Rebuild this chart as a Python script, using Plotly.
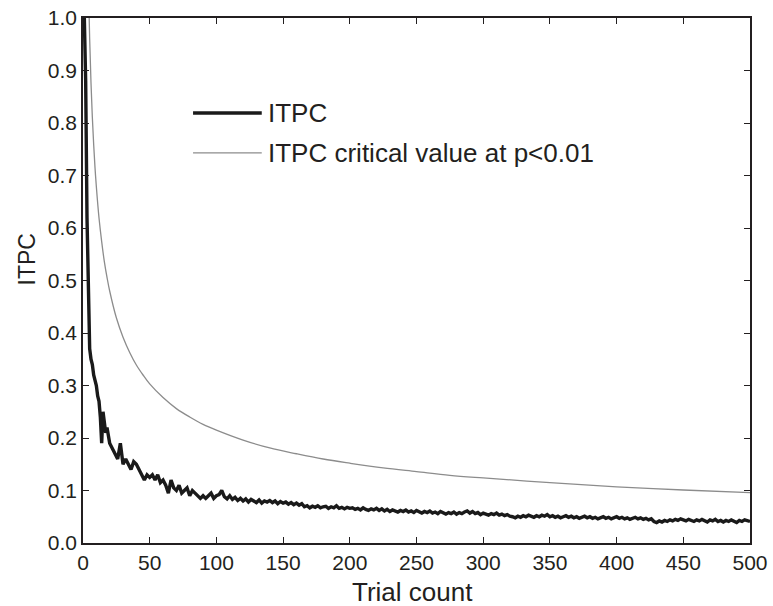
import plotly.graph_objects as go

# ---- data ----
itpc_trials = list(range(1, 21)) + list(range(22, 101, 2)) + list(range(102, 501, 2))
itpc_values = [
    1.00, 0.88, 0.62, 0.46, 0.37, 0.35, 0.34, 0.32, 0.31, 0.30,
    0.28, 0.27, 0.24, 0.19, 0.25, 0.23, 0.21, 0.22, 0.20, 0.19,
    # 22..100 step 2
    0.18, 0.17, 0.16, 0.19, 0.15, 0.16, 0.15, 0.14, 0.155, 0.15,
    0.14, 0.13, 0.12, 0.13, 0.125, 0.13, 0.12, 0.13, 0.115, 0.12,
    0.11, 0.095, 0.12, 0.105, 0.10, 0.11, 0.095, 0.10, 0.105, 0.09,
    0.10, 0.095, 0.09, 0.085, 0.09, 0.085, 0.09, 0.095, 0.085, 0.09,
    # 102..500 step 2
    0.092, 0.100, 0.088, 0.084, 0.090, 0.083, 0.087, 0.081, 0.085, 0.080,
    0.084, 0.078, 0.083, 0.079, 0.077, 0.082, 0.076, 0.080, 0.078, 0.081,
    0.077, 0.080, 0.075, 0.079, 0.076, 0.078, 0.074, 0.077, 0.073, 0.076,
    0.072, 0.075, 0.069, 0.071, 0.067, 0.070, 0.068, 0.071, 0.067, 0.069,
    0.070, 0.066, 0.069, 0.067, 0.071, 0.066, 0.068, 0.065, 0.068, 0.066,
    0.067, 0.064, 0.066, 0.063, 0.067, 0.064, 0.062, 0.065, 0.063, 0.066,
    0.062, 0.065, 0.061, 0.064, 0.060, 0.063, 0.061, 0.059, 0.062, 0.060,
    0.063, 0.059, 0.061, 0.058, 0.062, 0.059, 0.057, 0.060, 0.058, 0.061,
    0.057, 0.059, 0.056, 0.060, 0.057, 0.055, 0.058, 0.056, 0.059, 0.055,
    0.058, 0.056, 0.059, 0.061, 0.057, 0.060, 0.056, 0.058, 0.054, 0.057,
    0.055, 0.053, 0.056, 0.054, 0.057, 0.053, 0.055, 0.052, 0.054, 0.051,
    0.050, 0.048, 0.051, 0.049, 0.052, 0.050, 0.053, 0.051, 0.049, 0.052,
    0.050, 0.053, 0.051, 0.054, 0.050, 0.052, 0.049, 0.051, 0.048, 0.050,
    0.052, 0.049, 0.051, 0.048, 0.050, 0.047, 0.049, 0.051, 0.048, 0.050,
    0.047, 0.049, 0.046, 0.048, 0.050, 0.047, 0.049, 0.046, 0.048, 0.050,
    0.047, 0.049, 0.046, 0.048, 0.045, 0.047, 0.049, 0.046, 0.048, 0.045,
    0.047, 0.044, 0.046, 0.041, 0.039, 0.042, 0.040, 0.043, 0.041, 0.044,
    0.042, 0.045, 0.043, 0.046, 0.044, 0.042, 0.045, 0.043, 0.041, 0.044,
    0.042, 0.045, 0.043, 0.040, 0.044, 0.042, 0.045, 0.041, 0.043, 0.040,
    0.043, 0.041, 0.044, 0.042, 0.039, 0.043, 0.041, 0.044, 0.042, 0.041,
]

crit_trials = [4, 5, 6, 7, 8, 9, 10, 12, 14, 16, 18, 20, 25, 30, 35, 40, 45, 50,
               60, 70, 80, 90, 100, 120, 140, 160, 180, 200, 225, 250, 275, 300,
               350, 400, 450, 500]
crit_values = [1.07, 0.96, 0.876, 0.811, 0.759, 0.715, 0.679, 0.619, 0.574, 0.536,
               0.506, 0.480, 0.429, 0.392, 0.363, 0.339, 0.320, 0.303, 0.277, 0.256,
               0.240, 0.226, 0.215, 0.196, 0.181, 0.170, 0.160, 0.152, 0.143, 0.136,
               0.129, 0.124, 0.115, 0.107, 0.101, 0.096]

x_ticks = [0, 50, 100, 150, 200, 250, 300, 350, 400, 450, 500]
y_ticks = [0.0, 0.1, 0.2, 0.3, 0.4, 0.5, 0.6, 0.7, 0.8, 0.9, 1.0]

legend_labels = ["ITPC", "ITPC critical value at p<0.01"]

TXT = "#231f20"
FONT = "Liberation Sans, Arial, Helvetica, sans-serif"

fig = go.Figure()
fig.add_trace(go.Scatter(x=crit_trials, y=crit_values, mode="lines",
                         line=dict(color="#8c8c8c", width=1.3, shape="spline"),
                         name=legend_labels[1], showlegend=False))
fig.add_trace(go.Scatter(x=itpc_trials, y=itpc_values, mode="lines",
                         line=dict(color="#1a1a1a", width=3.4),
                         name=legend_labels[0], showlegend=False))

# manual legend
leg = [(0.819, "#1a1a1a", 3.4, legend_labels[0]),
       (0.743, "#8c8c8c", 1.3, legend_labels[1])]
for yy, col, w, lab in leg:
    fig.add_shape(type="line", xref="paper", yref="paper",
                  x0=0.165, x1=0.268, y0=yy, y1=yy,
                  line=dict(color=col, width=w))
    fig.add_annotation(xref="paper", yref="paper", x=0.274, y=yy,
                       text=lab, showarrow=False, xanchor="left", yanchor="middle",
                       font=dict(family=FONT, size=26, color=TXT))

# axis titles
fig.add_annotation(xref="paper", yref="paper", x=-0.084, y=0.54, text="ITPC",
                   textangle=-90, showarrow=False, xanchor="center", yanchor="middle",
                   font=dict(family=FONT, size=23, color=TXT))
fig.add_annotation(xref="paper", yref="paper", x=0.494, y=-0.093, text="Trial count",
                   showarrow=False, xanchor="center", yanchor="middle",
                   font=dict(family=FONT, size=26, color=TXT))

axis_common = dict(showgrid=False, zeroline=False, showline=True, linecolor=TXT,
                   linewidth=1.5, mirror="ticks", ticks="inside", ticklen=6,
                   tickwidth=1.2, tickcolor=TXT, automargin=False,
                   tickfont=dict(family=FONT, size=21, color=TXT))

fig.update_xaxes(range=[0, 500], tickvals=x_ticks, ticktext=[str(v) for v in x_ticks],
                 **axis_common)
fig.update_yaxes(range=[0, 1], tickvals=y_ticks, ticktext=[f"{v:.1f}" for v in y_ticks],
                 **axis_common)

fig.update_layout(width=773, height=606,
                  margin=dict(l=83, r=23, t=18, b=63),
                  paper_bgcolor="white", plot_bgcolor="white",
                  font=dict(family=FONT, color=TXT))

fig.write_html("out.html", config={"displayModeBar": False},
               post_script="document.body.style.margin='0';document.body.style.overflow='hidden';")
